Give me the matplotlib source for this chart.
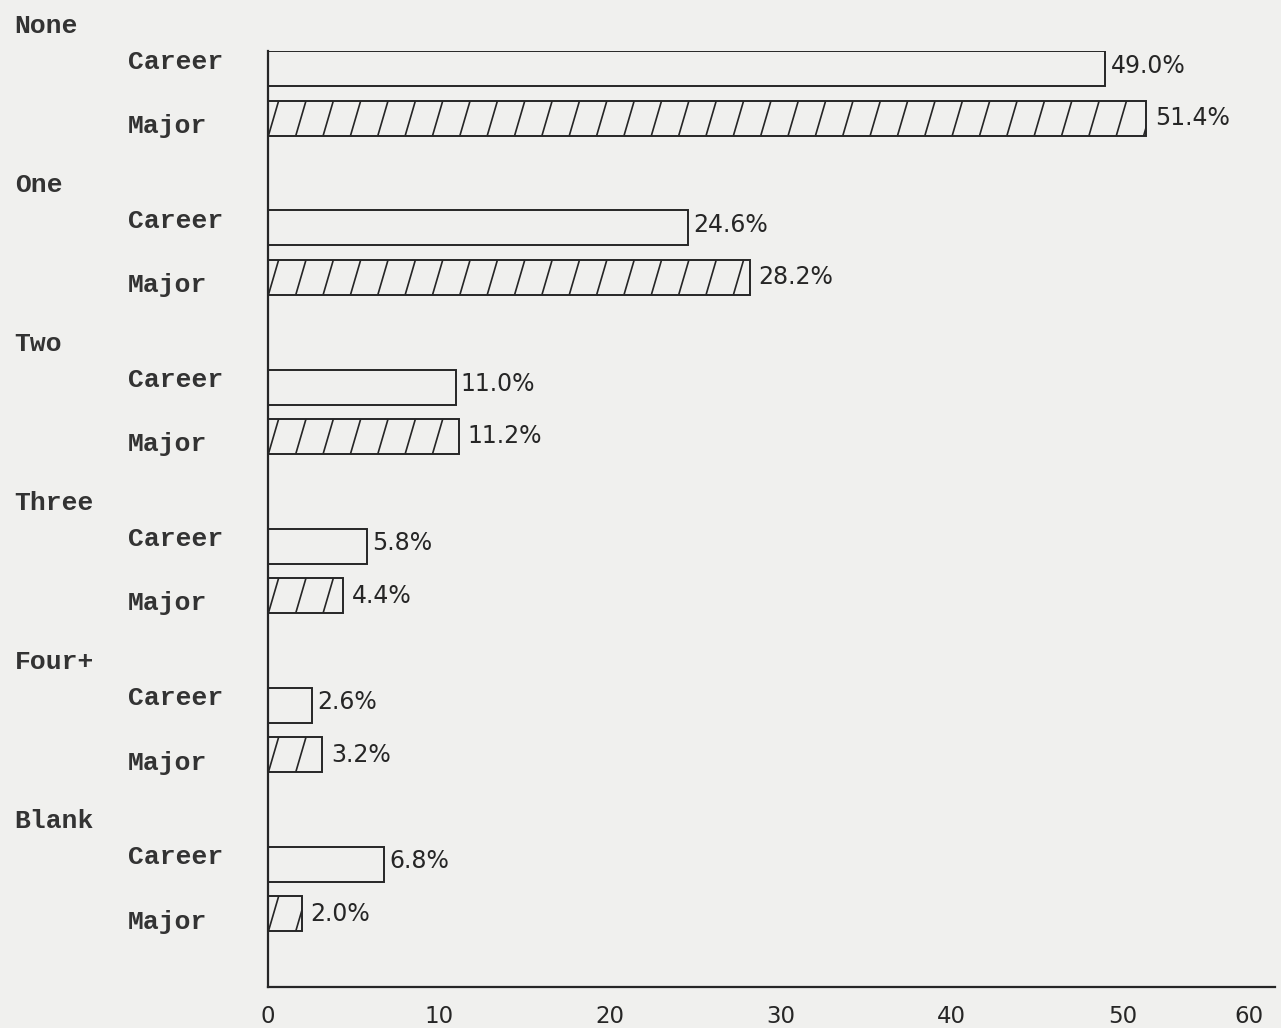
import numpy as np
import matplotlib.pyplot as plt
from matplotlib.collections import LineCollection

# 数据
groups = ['None', 'One', 'Two', 'Three', 'Four+', 'Blank']
career = [49.0, 24.6, 11.0, 5.8, 2.6, 6.8]
major = [51.4, 28.2, 11.2, 4.4, 3.2, 2.0]
xticks = [0, 10, 20, 30, 40, 50, 57.4]
xtick_labels = ['0', '10', '20', '30', '40', '50', '60']

paper = '#f0f0ee'
ink = '#262626'
mono = 'Liberation Mono'


def slash_bar(ax, y, width, height, step=1.6, lean=0.6):
    # 斜线填充（打字机风格，比默认 hatch 更陡）
    bar = ax.barh(y, width, height=height, color=paper, edgecolor=ink, linewidth=1.4)[0]
    y0, y1 = y + height / 2, y - height / 2
    xs = np.arange(-lean, width, step) + step * 0.4
    segs = [[(x, y0), (x + lean, y1)] for x in xs]
    lc = LineCollection(segs, colors=ink, linewidths=1.2)
    ax.add_collection(lc)
    lc.set_clip_path(bar)
    return bar


def main():
    plt.rcParams['font.family'] = ['DejaVu Sans']
    fig = plt.figure(figsize=(12.81, 10.28), dpi=100, facecolor=paper)
    ax = fig.add_axes([0.209, 0.040, 0.786, 0.910])
    ax.set_facecolor(paper)

    h = 0.22
    off = 0.31
    pos = np.arange(len(groups))
    tkw = dict(va='center', ha='left', fontsize=19, family=mono, weight='bold',
               color='#333333', clip_on=False)

    for i, g in enumerate(groups):
        yc = pos[i]
        ym = pos[i] + off
        ax.barh(yc, career[i], height=h, color=paper, edgecolor=ink, linewidth=1.4)
        slash_bar(ax, ym, major[i], h)

        ax.text(career[i] + 0.3, yc - 0.02, f'{career[i]:.1f}%', va='center', ha='left',
                fontsize=17, color=ink)
        ax.text(major[i] + 0.5, ym, f'{major[i]:.1f}%', va='center', ha='left',
                fontsize=17, color=ink)

        ax.text(-14.8, yc - 0.27, g, **tkw)
        ax.text(-8.2, yc - 0.045, 'Career', **tkw)
        ax.text(-8.2, ym + 0.05, 'Major', **tkw)

    ax.set_xlim(0, 58.9)
    ax.set_ylim(5.77, -h / 2)
    ax.set_xticks(xticks)
    ax.set_xticklabels(xtick_labels, fontsize=16.5, color=ink)
    ax.set_yticks([])
    ax.tick_params(axis='x', length=0, pad=13)

    for s in ['top', 'right']:
        ax.spines[s].set_visible(False)
    for s in ['left', 'bottom']:
        ax.spines[s].set_linewidth(1.6)
        ax.spines[s].set_color(ink)

    fig.savefig('out.png', dpi=100, facecolor=paper)


if __name__ == "__main__":
    main()
